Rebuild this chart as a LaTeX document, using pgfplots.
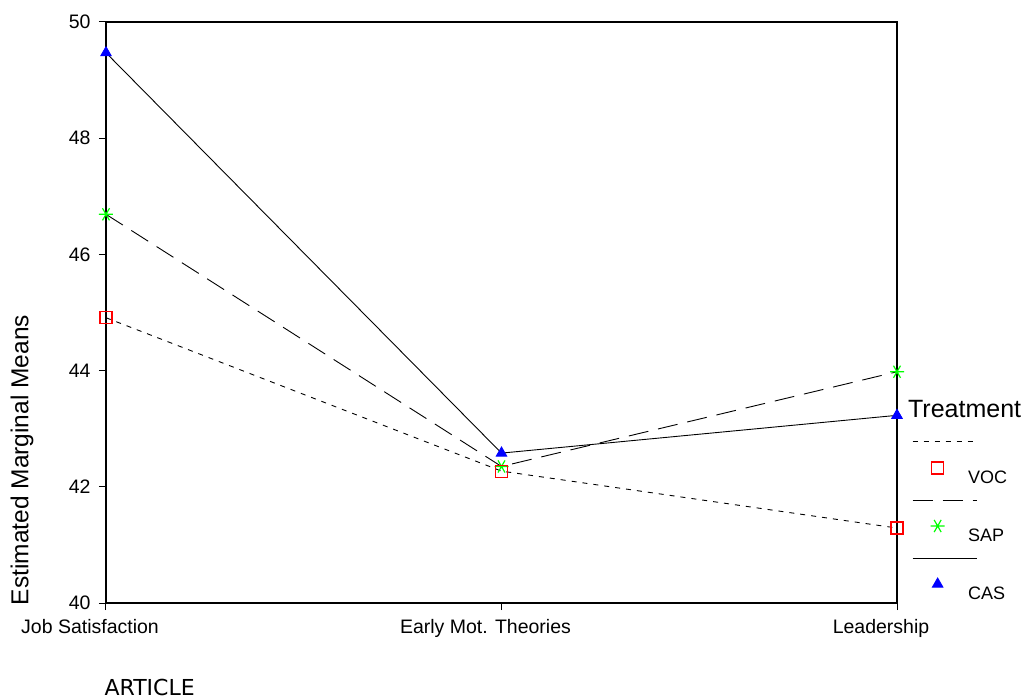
\documentclass[border=0pt]{standalone}
\usepackage{pgfplots}
\pgfplotsset{compat=1.18}
\usepackage{fontspec}
\setmainfont{Liberation Sans}
\newfontfamily\dejavu{DejaVu Sans}
\definecolor{vocred}{RGB}{255,0,0}
\definecolor{sapgreen}{RGB}{0,255,0}
\definecolor{casblue}{RGB}{0,0,255}
\pgfplotsset{
  treatimg/.style={legend image code/.code={
    \draw[##1,mark=none,overlay] (-53pt,36pt) -- (11pt,36pt);
    \path[##1,overlay] plot coordinates {(-28pt,10pt)};
    \path (0pt,0pt);
  }}
}
\begin{document}
\begin{tikzpicture}
\begin{axis}[
  scale only axis, width=791pt, height=581pt,
  xmin=0, xmax=2, ymin=40, ymax=50,
  xtick={0,1,2},
  xticklabels={Job Satisfaction, Early Mot. Theories, Leadership},
  ytick={40,42,44,46,48,50},
  xtick pos=bottom, ytick pos=left,
  tick align=outside, major tick length=7pt,
  tick style={black, line width=1pt},
  axis line style={line width=1.2pt},
  /pgf/number format/assume math mode=true,
  tick label style={font=\fontsize{19.5}{22}\selectfont},
  xticklabel style={xshift=-16pt, yshift=-6pt},
  yticklabel style={xshift=-5pt},
  ylabel={Estimated Marginal Means},
  ylabel style={at={([xshift=-84pt]axis description cs:0,0.246)}, anchor=center, rotate=0, font=\fontsize{24.5}{28}\selectfont},
  clip=false,
  reverse legend,
  legend style={at={([xshift=65pt,yshift=207pt]axis description cs:1,0)}, anchor=north west, draw=none, fill=none,
    font=\fontsize{18}{21}\selectfont, row sep=40pt, legend cell align=left},
]
\addplot[black, line width=0.9pt, mark=triangle*, mark size=6pt,
  mark options={solid, draw=casblue, fill=casblue}, treatimg]
  coordinates {(0,49.47) (1,42.58) (2,43.23)};
\addlegendentry{CAS}
\addplot[black, line width=0.9pt, dash pattern=on 20pt off 10pt, mark=asterisk, mark size=7pt,
  mark options={solid, draw=sapgreen, line width=1.2pt, rotate=90}, treatimg]
  coordinates {(0,46.69) (1,42.35) (2,43.98)};
\addlegendentry{SAP}
\addplot[black, line width=0.9pt, dash pattern=on 5pt off 6pt, mark=square, mark size=6pt,
  mark options={solid, draw=vocred, line width=1.2pt}, treatimg]
  coordinates {(0,44.91) (1,42.27) (2,41.29)};
\addlegendentry{VOC}
\addlegendimage{empty legend}
\addlegendentry{\hspace*{-60pt}\raisebox{8pt}{\fontsize{25}{28}\selectfont Treatment}}
\node[anchor=base west, font=\dejavu\fontsize{22}{26}\selectfont] at ([xshift=-5pt,yshift=-92pt]rel axis cs:0,0) {ARTICLE};
\end{axis}
\pgfresetboundingbox
\path (-106pt,-96pt) rectangle (919pt,603pt);
\end{tikzpicture}
\end{document}
